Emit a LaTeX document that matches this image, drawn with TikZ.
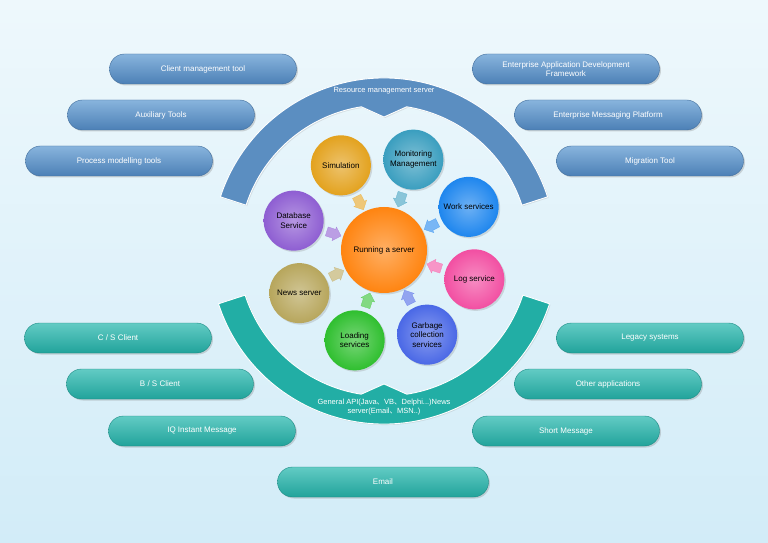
\documentclass[tikz,border=0pt]{standalone}
\usepackage{fontspec}
\setmainfont{Liberation Sans}
\newfontfamily\cjk{Noto Sans CJK SC}
\usetikzlibrary{shapes.arrows,shadows}

\definecolor{bgtop}{HTML}{EEF8FC}
\definecolor{bgbot}{HTML}{D2ECF8}
\definecolor{steel}{HTML}{5B8EC1}
\definecolor{steeltop}{HTML}{88B4DD}
\definecolor{steelbot}{HTML}{4C80B6}
\definecolor{lagoon}{HTML}{22AEA5}
\definecolor{lagoontop}{HTML}{62CBC4}
\definecolor{lagoonbot}{HTML}{21A39B}
\definecolor{hubcol}{HTML}{FF8410}
\definecolor{simcol}{HTML}{E3A21E}
\definecolor{moncol}{HTML}{3A9EBF}
\definecolor{workcol}{HTML}{1E86EE}
\definecolor{logcol}{HTML}{F24FA2}
\definecolor{gccol}{HTML}{4A68E6}
\definecolor{loadcol}{HTML}{2FBF2F}
\definecolor{newscol}{HTML}{B7A65C}
\definecolor{dbcol}{HTML}{8E5ED2}

\begin{document}
\begin{tikzpicture}[x=1pt,y=1pt]
        \tikzset{pill/.style={rounded corners=15pt,minimum width=187pt,minimum height=30pt,top color=#1top,bottom color=#1bot,draw=#1bot!85!black,line width=0.4pt,text=white,font=\fontsize{8}{9.5}\selectfont,align=center,drop shadow={opacity=0.3,shadow xshift=1.5pt,shadow yshift=-1.5pt}}}
        \tikzset{ball/.style={circle,minimum size=60pt,inner sep=1pt,inner color=#1!65!white,outer color=#1,font=\fontsize{8}{9.5}\selectfont,align=center,drop shadow={opacity=0.25,shadow xshift=1.5pt,shadow yshift=-1.5pt}}}
        \tikzset{flow arrow/.style={single arrow,single arrow head extend=2.5pt,minimum height=15pt,inner sep=4.5pt,fill=#1!60!white,draw=#1!75!white,line width=0.3pt}}
        \tikzset{band/.style={fill=#1,draw=white,line width=0.9pt,drop shadow={opacity=0.2,shadow xshift=1pt,shadow yshift=-1pt}}}
        \tikzset{band label/.style={text=white,font=\fontsize{7.5}{9}\selectfont,align=center}}

        \fill[top color=bgtop,bottom color=bgbot] (-384,-293) rectangle (384,250);
        \useasboundingbox (-384,-293) rectangle (384,250);

        % outer bands
        \path[band=steel] (18:172pt) arc[start angle=18,end angle=162,radius=172pt] -- (162:145pt)
            arc[start angle=162,end angle=99,radius=145pt] -- (90:133pt) -- (81:145pt)
            arc[start angle=81,end angle=18,radius=145pt] -- cycle;
        \path[band=lagoon] (198:174pt) arc[start angle=198,end angle=342,radius=174pt] -- (342:146pt)
            arc[start angle=342,end angle=279,radius=146pt] -- (270:134pt) -- (261:146pt)
            arc[start angle=261,end angle=198,radius=146pt] -- cycle;

        \node[band label] (rms) at (0,159) {Resource management server};
        \node[band label] (api) at (0,-157) {General API(Java{\cjk 、}VB{\cjk 、}Delphi...)News\\server(Email{\cjk 、}MSN..)};

        % hub and services
        \node[ball=hubcol,minimum size=86pt] (hub) at (0,0) {Running a server};
        \node[ball=simcol] (sim) at (117:95pt) {Simulation};
        \node[ball=moncol] (mon) at (72:95pt) {Monitoring\\Management};
        \node[ball=workcol] (work) at (27:95pt) {Work services};
        \node[ball=logcol] (log) at (-18:95pt) {Log service};
        \node[ball=gccol] (gc) at (-63:95pt) {Garbage\\collection\\services};
        \node[ball=loadcol] (load) at (-108:95pt) {Loading\\services};
        \node[ball=newscol] (news) at (-153:95pt) {News server};
        \node[ball=dbcol] (db) at (162:95pt) {Database\\Service};

        \node[flow arrow=simcol,rotate=-63] (simarr) at (117:55pt) {};
        \node[flow arrow=moncol,rotate=-108] (monarr) at (72:55pt) {};
        \node[flow arrow=workcol,rotate=-153] (workarr) at (27:55pt) {};
        \node[flow arrow=logcol,rotate=162] (logarr) at (-18:55pt) {};
        \node[flow arrow=gccol,rotate=117] (gcarr) at (-63:55pt) {};
        \node[flow arrow=loadcol,rotate=72] (loadarr) at (-108:55pt) {};
        \node[flow arrow=newscol,rotate=27] (newsarr) at (-153:55pt) {};
        \node[flow arrow=dbcol,rotate=-18] (dbarr) at (162:55pt) {};

        % tools
        \node[pill=steel] (cmt) at (-181,181) {Client management tool};
        \node[pill=steel] (aux) at (-223,135) {Auxiliary Tools};
        \node[pill=steel] (pmt) at (-265,89) {Process modelling tools};
        \node[pill=steel] (eadf) at (182,181) {Enterprise Application Development\\Framework};
        \node[pill=steel] (emp) at (224,135) {Enterprise Messaging Platform};
        \node[pill=steel] (mig) at (266,89) {Migration Tool};

        % clients
        \node[pill=lagoon] (cs) at (-266,-88) {C / S Client};
        \node[pill=lagoon] (bs) at (-224,-134) {B / S Client};
        \node[pill=lagoon] (iq) at (-182,-181) {IQ Instant Message};
        \node[pill=lagoon] (legacy) at (266,-88) {Legacy systems};
        \node[pill=lagoon] (other) at (224,-134) {Other applications};
        \node[pill=lagoon] (sms) at (182,-181) {Short Message};
        \node[pill=lagoon,minimum width=211pt] (email) at (-1,-232) {Email};
    \end{tikzpicture}
\end{document}
